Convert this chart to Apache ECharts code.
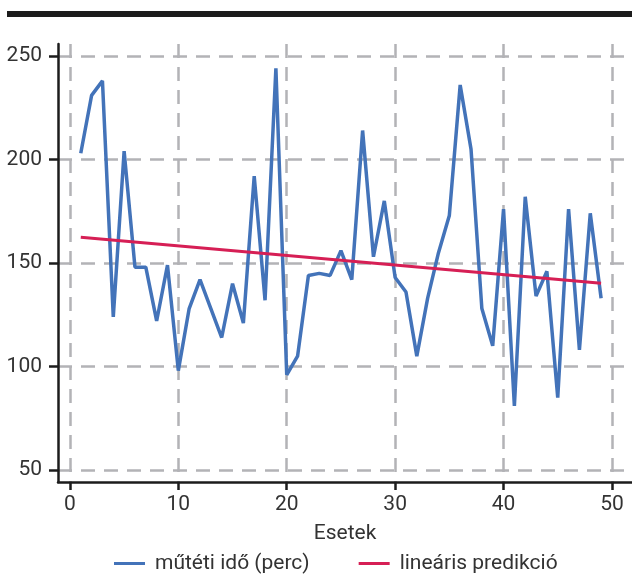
<!DOCTYPE html>
<html>
<head>
<meta charset="utf-8">
<script src="https://cdn.jsdelivr.net/npm/echarts@6/dist/echarts.min.js"></script>
<style>
  html, body { margin: 0; padding: 0; background: #fff; }
  #mychart { width: 632px; height: 574px; }
</style>
</head>
<body>
<div id="mychart"></div>
<script>
// esetek (x) és műtéti idő (y)
const cases = [1, 2, 3, 4, 5, 6, 7, 8, 9, 10, 11, 12, 13, 14, 15, 16, 17, 18, 19, 20,
  21, 22, 23, 24, 25, 26, 27, 28, 29, 30, 31, 32, 33, 34, 35, 36, 37, 38, 39, 40,
  41, 42, 43, 44, 45, 46, 47, 48, 49];
const opTime = [203, 231, 238, 124, 204, 148, 148, 122, 149, 98, 128, 142, 128, 114, 140, 121, 192, 132, 244, 96,
  105, 144, 145, 144, 156, 142, 214, 153, 180, 143, 136, 105, 133, 155, 173, 236, 205, 128, 110, 176,
  81, 182, 134, 146, 85, 176, 108, 174, 133];
// lineáris predikció végpontjai
const predCases = [1, 49];
const predValues = [162.4, 140.2];

const xTicks = [0, 10, 20, 30, 40, 50];
const yTicks = [50, 100, 150, 200, 250];

const seriesNames = ['műtéti idő (perc)', 'lineáris predikció'];

const font = 'Roboto, "Liberation Sans", sans-serif';

const option = {
  animation: false,
  graphic: [{
    type: 'rect',
    shape: { x: 7, y: 11, width: 625, height: 6 },
    style: { fill: '#1c1c1c' }
  }],
  grid: { left: 58, right: 0, top: 44, bottom: 92, containLabel: false },
  legend: {
    data: seriesNames.map(n => ({ name: n, icon: 'rect' })),
    left: 109,
    top: 548,
    itemWidth: 31,
    itemHeight: 3,
    itemGap: 49,
    textStyle: { fontFamily: font, fontSize: 21, color: '#333', padding: [0, 0, 0, 5] }
  },
  xAxis: {
    type: 'value',
    min: -1.1,
    max: 51.85,
    name: 'Esetek',
    nameLocation: 'middle',
    nameGap: 41,
    nameTextStyle: { fontFamily: font, fontSize: 21, color: '#333' },
    axisLine: { show: true, onZero: false, lineStyle: { color: '#1c1c1c', width: 2.5 } },
    axisTick: { show: true, customValues: xTicks, length: 8, lineStyle: { color: '#1c1c1c', width: 2.5 } },
    axisLabel: { customValues: xTicks, fontFamily: font, fontSize: 21, color: '#333', margin: 12 },
    splitLine: {
      show: true,
      lineStyle: { color: '#b3b3b6', width: 2.5, type: [14, 9] }
    }
  },
  yAxis: {
    type: 'value',
    min: 44.2,
    max: 255.8,
    axisLine: { show: true, onZero: false, lineStyle: { color: '#1c1c1c', width: 2.5 } },
    axisTick: { show: true, customValues: yTicks, length: 9, lineStyle: { color: '#1c1c1c', width: 2.5 } },
    axisLabel: { customValues: yTicks, fontFamily: font, fontSize: 21, color: '#333', margin: 16 },
    splitLine: {
      show: true,
      lineStyle: { color: '#b3b3b6', width: 2.5, type: [14, 9] }
    }
  },
  series: [
    {
      name: seriesNames[0],
      type: 'line',
      data: cases.map((c, i) => [c, opTime[i]]),
      showSymbol: false,
      symbol: 'none',
      lineStyle: { color: '#4373b9', width: 3.5 },
      itemStyle: { color: '#4373b9' },
      z: 3
    },
    {
      name: seriesNames[1],
      type: 'line',
      data: predCases.map((c, i) => [c, predValues[i]]),
      showSymbol: false,
      symbol: 'none',
      lineStyle: { color: '#d61f55', width: 3 },
      itemStyle: { color: '#d61f55' },
      z: 4
    }
  ]
};

const myChart = echarts.init(document.getElementById('mychart'));
myChart.setOption(option);
</script>
</body>
</html>
